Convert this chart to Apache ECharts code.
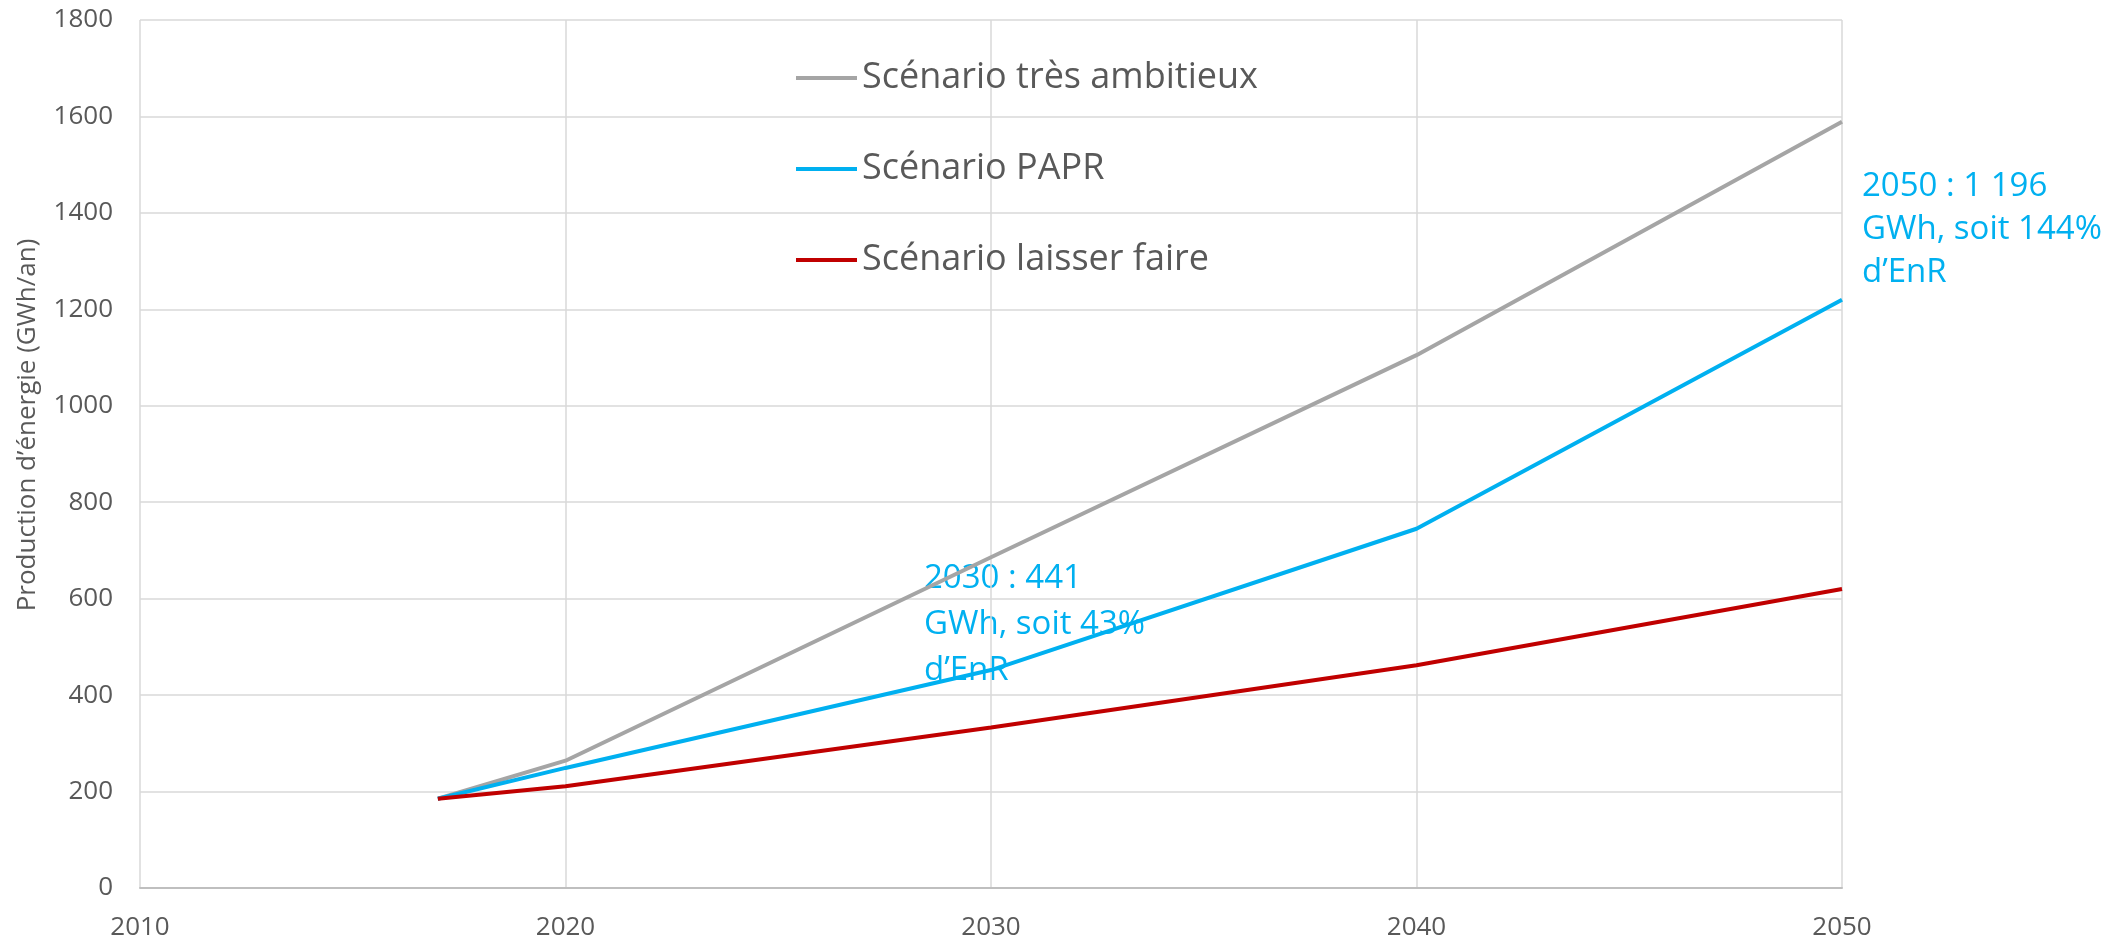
<!DOCTYPE html>
<html lang="fr">

<head>
  <meta charset="utf-8">
  <title>Production d'énergie - scénarios</title>
  <style>
    * {
      margin: 0;
      padding: 0;
    }

    #chart-container {
      position: relative;
      width: 2116px;
      height: 941px;
      overflow: hidden;
      background: #fff;
    }
  </style>
</head>

<body>
  <div id="chart-container"></div>
  <script src="https://cdn.jsdelivr.net/npm/echarts@6/dist/echarts.min.js"></script>
  <script>
    var dom = document.getElementById('chart-container');
    var myChart = echarts.init(dom, null, { renderer: 'canvas' });

    // données
    var years = [2017, 2020, 2030, 2040, 2050];
    var tresAmbitieux = [185, 264, 686, 1105, 1589];
    var papr = [185, 249, 452, 745, 1220];
    var laisserFaire = [185, 211, 333, 462, 620];
    var seriesNames = ['Scénario très ambitieux', 'Scénario PAPR', 'Scénario laisser faire'];
    var seriesColors = ['#A5A5A5', '#00B0F0', '#C00000'];
    var note2030 = ['2030 : 441', 'GWh, soit 43%', 'd\u2019EnR'];
    var note2050 = ['2050 : 1 196', 'GWh, soit 144%', 'd\u2019EnR'];
    var yTitle = 'Production d\u2019énergie (GWh/an)';

    function pairs(values) {
      return years.map(function (y, i) { return [y, values[i]]; });
    }

    var allValues = [tresAmbitieux, papr, laisserFaire];
    var series = allValues.map(function (vals, i) {
      return {
        name: seriesNames[i],
        type: 'line',
        data: pairs(vals),
        symbol: 'none',
        color: seriesColors[i],
        lineStyle: { width: 4, color: seriesColors[i] }
      };
    });

    var plain = function (v) { return String(v); };

    var option = {
      backgroundColor: '#fff',
      animation: false,
      grid: { left: 140, right: 274, top: 20, bottom: 53 },
      legend: {
        orient: 'vertical',
        left: 791,
        top: 51,
        icon: 'rect',
        itemWidth: 61,
        itemHeight: 4,
        itemGap: 47,
        data: seriesNames,
        textStyle: {
          fontFamily: 'Open Sans',
          fontSize: 36,
          lineHeight: 44,
          color: '#595959'
        }
      },
      xAxis: {
        type: 'value',
        min: 2010,
        max: 2050,
        interval: 10,
        axisLine: { show: true, lineStyle: { color: '#BFBFBF', width: 2 } },
        axisTick: { show: false },
        splitLine: { show: true, lineStyle: { color: '#D9D9D9', width: 1.5 } },
        axisLabel: {
          margin: 27,
          formatter: plain,
          fontFamily: 'Open Sans',
          fontSize: 26,
          color: '#595959'
        }
      },
      yAxis: {
        type: 'value',
        min: 0,
        max: 1800,
        interval: 200,
        axisLine: { show: false },
        axisTick: { show: false },
        splitLine: { show: true, lineStyle: { color: '#D9D9D9', width: 1.5 } },
        axisLabel: {
          margin: 27,
          formatter: plain,
          fontFamily: 'Open Sans',
          fontSize: 26,
          color: '#595959'
        }
      },
      graphic: [
        {
          type: 'text',
          x: 28,
          y: 425,
          rotation: Math.PI / 2,
          style: {
            text: yTitle,
            fill: '#595959',
            fontFamily: 'Open Sans',
            fontSize: 26,
            align: 'center',
            verticalAlign: 'middle'
          }
        },
        {
          type: 'text',
          x: 924,
          y: 556,
          style: {
            text: note2030.join('\n'),
            fill: '#00B0F0',
            fontFamily: 'Open Sans',
            fontSize: 33,
            lineHeight: 46,
            align: 'left',
            verticalAlign: 'top'
          }
        },
        {
          type: 'text',
          x: 1862,
          y: 165,
          style: {
            text: note2050.join('\n'),
            fill: '#00B0F0',
            fontFamily: 'Open Sans',
            fontSize: 33,
            lineHeight: 43,
            align: 'left',
            verticalAlign: 'top'
          }
        }
      ],
      series: series
    };

    myChart.setOption(option);
    window.addEventListener('resize', myChart.resize);
  </script>
</body>

</html>
